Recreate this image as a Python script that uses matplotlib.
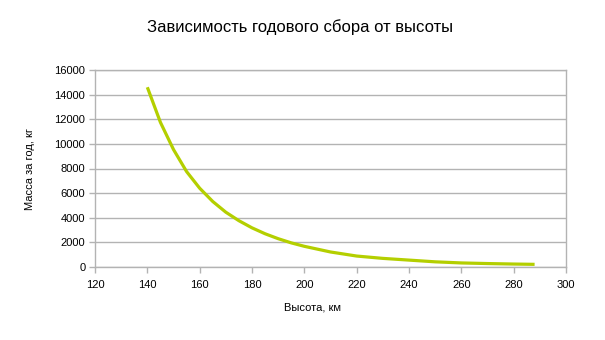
import matplotlib
matplotlib.use("Agg")
import matplotlib.pyplot as plt

plt.rcParams['font.family'] = ['Liberation Sans', 'DejaVu Sans']

altitude_km = [140, 145, 150, 155, 160, 165, 170, 175, 180, 185, 190, 195, 200,
               210, 220, 230, 240, 250, 260, 270, 280, 288]
mass_kg = [14600, 11750, 9540, 7750, 6400, 5320, 4450, 3760, 3180, 2700, 2300, 1960, 1680,
           1220, 890, 700, 560, 420, 330, 280, 240, 215]

title = "Зависимость годового сбора от высоты"
xlabel = "Высота, км"
ylabel = "Масса за год, кг"
xticks = [120, 140, 160, 180, 200, 220, 240, 260, 280, 300]
yticks = [0, 2000, 4000, 6000, 8000, 10000, 12000, 14000, 16000]

fig = plt.figure(figsize=(6.05, 3.4), dpi=100)
ax = fig.add_axes([95/605, 1-267/340, (566-95)/605, (267-70)/340])

grid_c = '#b3b3b3'
ax.plot(altitude_km, mass_kg, color='#b4cf00', lw=2.3, solid_capstyle='butt', solid_joinstyle='round')
ax.set_xlim(120, 300)
ax.set_ylim(0, 16000)
ax.set_xticks(xticks)
ax.set_yticks(yticks)
ax.yaxis.grid(True, color=grid_c, lw=1)
ax.set_axisbelow(True)
for s in ax.spines.values():
    s.set_color(grid_c)
    s.set_linewidth(1)
ax.tick_params(axis='both', colors=grid_c, labelcolor='black', labelsize=8, length=4, width=1, direction='out')
ax.tick_params(axis='x', pad=5)
ax.tick_params(axis='y', pad=3)

fig.text(300/605, 1-27/340, title, ha='center', va='center', fontsize=12)
fig.text(313/605, 1-307/340, xlabel, ha='center', va='center', fontsize=8)
fig.text(30/605, 1-169/340, ylabel, ha='center', va='center', fontsize=8, rotation=90)

fig.savefig('out.png', dpi=100)
